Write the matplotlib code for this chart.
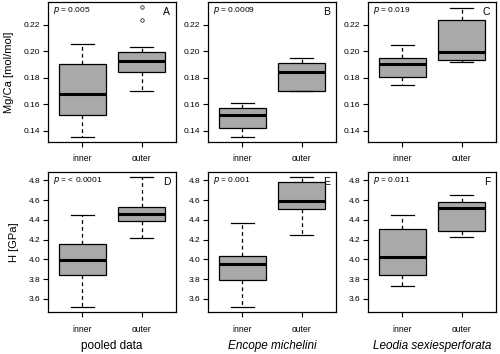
import matplotlib
matplotlib.use("Agg")
import matplotlib.pyplot as plt

plt.rcParams['font.family'] = ['Liberation Sans', 'DejaVu Sans']

groups = ['inner', 'outer']
titles = ['pooled data', 'Encope michelini', 'Leodia sexiesperforata']
letters = ['A', 'B', 'C', 'D', 'E', 'F']
pvals = ['= 0.005', '= 0.0009', '= 0.019', '= < 0.0001', '= 0.001', '= 0.011']

# five number summaries: whislo, q1, med, q3, whishi
mgca_pooled = [[0.1355, 0.152, 0.168, 0.190, 0.205],
               [0.170, 0.1845, 0.1925, 0.1993, 0.2028]]
mgca_pooled_out = [[], [0.2238, 0.233]]
mgca_encope = [[0.1355, 0.142, 0.1518, 0.157, 0.161],
               [0.170, 0.170, 0.184, 0.191, 0.195]]
mgca_leodia = [[0.1748, 0.1808, 0.190, 0.195, 0.2048],
               [0.1918, 0.193, 0.1995, 0.2235, 0.2328]]

h_pooled = [[3.52, 3.843, 3.99, 4.157, 4.447],
            [4.22, 4.39, 4.457, 4.533, 4.83]]
h_encope = [[3.52, 3.79, 3.957, 4.033, 4.373],
            [4.25, 4.513, 4.59, 4.783, 4.83]]
h_leodia = [[3.727, 3.847, 4.023, 4.303, 4.447],
            [4.227, 4.287, 4.523, 4.58, 4.647]]

panels = [(mgca_pooled, mgca_pooled_out), (mgca_encope, [[], []]), (mgca_leodia, [[], []]),
          (h_pooled, [[], []]), (h_encope, [[], []]), (h_leodia, [[], []])]

fig = plt.figure(figsize=(5, 3.54), dpi=100)
lefts = [0.096, 0.416, 0.736]
bottoms = [0.599, 0.1186]
W, H = 0.256, 0.395

for i, (summ, outl) in enumerate(panels):
    row, col = divmod(i, 3)
    ax = fig.add_axes([lefts[col], bottoms[row], W, H])
    stats = []
    for g, s, o in zip(groups, summ, outl):
        stats.append(dict(label=g, whislo=s[0], q1=s[1], med=s[2], q3=s[3],
                          whishi=s[4], fliers=o))
    ax.bxp(stats, positions=[1, 2], widths=0.8, capwidths=0.4, patch_artist=True,
           boxprops=dict(facecolor='#a9a9a9', edgecolor='black', linewidth=0.9),
           medianprops=dict(color='black', linewidth=2.2, solid_capstyle='butt'),
           whiskerprops=dict(color='black', linewidth=0.9, linestyle=(0, (3, 2.5))),
           capprops=dict(color='black', linewidth=0.9),
           flierprops=dict(marker='o', markersize=2.5, markerfacecolor='none',
                           markeredgecolor='black', markeredgewidth=0.5))
    ax.set_xlim(0.42, 2.58)
    if row == 0:
        ax.set_ylim(0.1316, 0.2369)
        ax.set_yticks([0.14, 0.16, 0.18, 0.20, 0.22])
        ax.set_yticklabels(['0.14', '0.16', '0.18', '0.20', '0.22'])
    else:
        ax.set_ylim(3.468, 4.882)
        ax.set_yticks([3.6, 3.8, 4.0, 4.2, 4.4, 4.6, 4.8])
        ax.set_yticklabels(['3.6', '3.8', '4.0', '4.2', '4.4', '4.6', '4.8'])
    ax.tick_params(axis='y', labelsize=6, length=3.5, width=0.8, pad=2)
    ax.tick_params(axis='x', labelsize=6.2, length=3.5, width=0.8, pad=5.5)
    for sp in ax.spines.values():
        sp.set_linewidth(0.9)
    ax.text(0.04, 0.94, '$p$ ' + pvals[i], transform=ax.transAxes, fontsize=6,
            ha='left', va='center')
    ax.text(0.955, 0.93, letters[i], transform=ax.transAxes, fontsize=7.5,
            ha='right', va='center')
    if col == 0:
        ax.set_ylabel('Mg/Ca [mol/mol]' if row == 0 else 'H [GPa]', fontsize=8,
                      labelpad=7)
    if row == 1:
        ax.set_xlabel(titles[col], fontsize=8.5, labelpad=5,
                      style='normal' if col == 0 else 'italic')

fig.savefig('out.png', dpi=100)
